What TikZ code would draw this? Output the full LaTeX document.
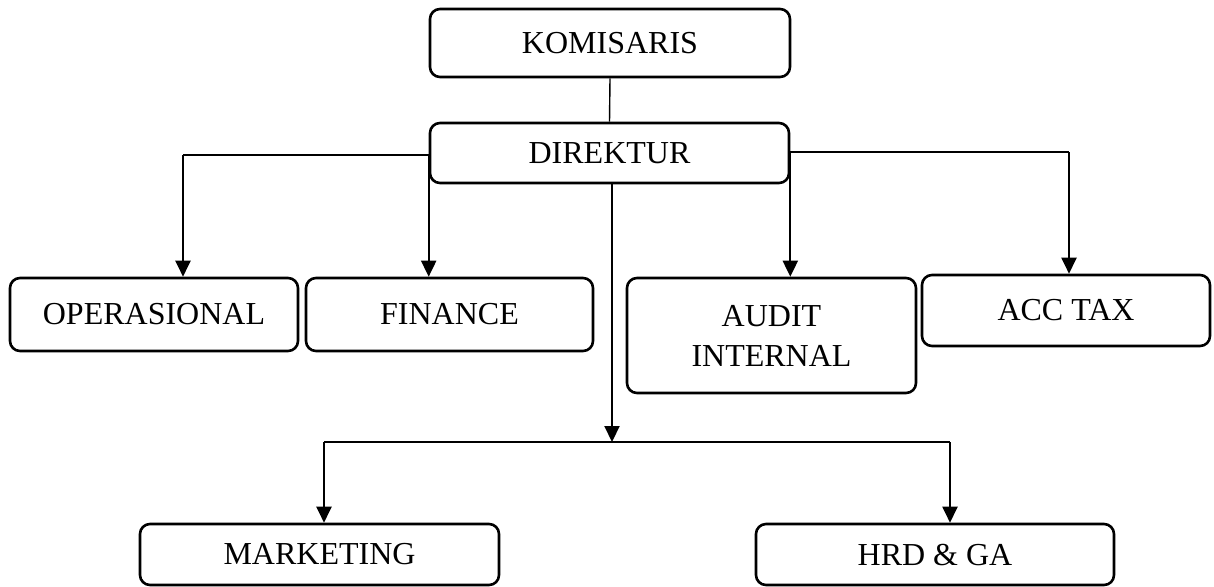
\documentclass[tikz,border=0pt]{standalone}
\usepackage{fontspec}
\setmainfont{Liberation Serif}
\usetikzlibrary{arrows.meta}

\tikzset{
  unit/.style={box/.style={draw,line width=1.3pt,rounded corners=5pt,align=center,inner sep=0pt,font=\fontsize{16}{20}\selectfont}},
  thinline/.style={line width=.7pt},
  arrowline/.style={line width=1pt,-{Triangle[length=8pt,width=7.5pt]}}
}

\begin{document}
\begin{tikzpicture}[x=0.5pt,y=-0.5pt,unit]
\useasboundingbox (0,0) rectangle (1214,586);
% pimpinan
\node[box,minimum width=180pt,minimum height=34pt](kom) at (610,43) {KOMISARIS};
\node[box,minimum width=179.5pt,minimum height=30pt](dir) at (609.5,153) {DIREKTUR};
% divisi baris pertama
\node[box,minimum width=144pt,minimum height=36.5pt](ops) at (154,314.5) {OPERASIONAL};
\node[box,minimum width=143.5pt,minimum height=36.5pt](fin) at (449.5,314.5) {FINANCE};
\node[box,minimum width=144.5pt,minimum height=57.5pt](aud) at (771.5,335.5) {AUDIT\\INTERNAL};
\node[box,minimum width=144pt,minimum height=35.5pt](acc) at (1066,310.5) {ACC TAX};
% divisi baris kedua
\node[box,minimum width=179.5pt,minimum height=30.5pt](mkt) at (319.5,554.5) {MARKETING};
\node[box,minimum width=179pt,minimum height=30.5pt](hrd) at (935,554.5) {HRD \& GA};
\coordinate (opsturn) at (183,155);
\coordinate (accturn) at (1069,152);
\coordinate (hub) at (612,442);
\coordinate (mktin) at (324,442);
\coordinate (hrdin) at (950,442);
% garis
\draw[thinline](kom.south)--(dir.north);
\draw[thinline](dir.west |- opsturn)--(opsturn);
\draw[arrowline](opsturn)--(opsturn |- ops.north);
\draw[arrowline](dir.west |- opsturn)--(dir.west |- fin.north);
\draw[arrowline](dir.east)--(dir.east |- aud.north);
\draw[thinline](dir.east |- accturn)--(accturn);
\draw[arrowline](accturn)--(accturn |- acc.north);
\draw[arrowline](dir.south -| hub)--(hub);
\draw[thinline](mktin)--(hrdin);
\draw[arrowline](mktin)--(mktin |- mkt.north);
\draw[arrowline](hrdin)--(hrdin |- hrd.north);
\end{tikzpicture}
\end{document}
